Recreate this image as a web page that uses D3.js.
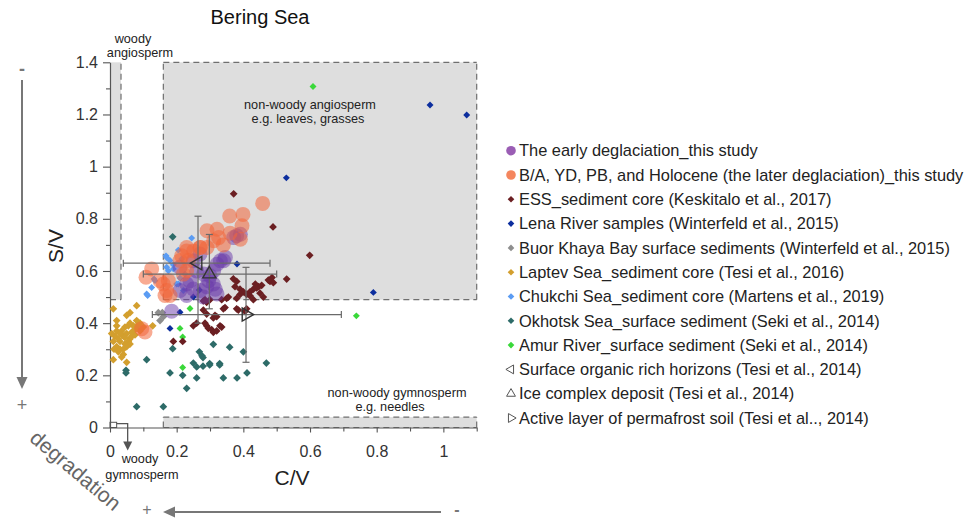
<!DOCTYPE html>
<html>
<head>
<meta charset="utf-8">
<script src="https://cdn.jsdelivr.net/npm/d3@7"></script>
<style>
  html, body { margin: 0; padding: 0; background: #fff; }
  svg { display: block; font-family: "Liberation Sans", Arial, sans-serif; }
</style>
</head>
<body>
<svg id="chart" width="968" height="519"></svg>
<script>
// ---- data: [C/V, S/V] pairs ----
const earlyDeglaciation = [
  [0.391,0.741],[0.371,0.728],[0.38,0.735],[0.346,0.652],[0.341,0.639],[0.321,0.626],
  [0.311,0.601],[0.296,0.563],[0.281,0.588],[0.23,0.55],[0.21,0.525],[0.271,0.525],
  [0.321,0.512],[0.31,0.55],[0.29,0.54],[0.28,0.50],[0.185,0.446],[0.25,0.639],
  [0.21,0.614],[0.27,0.665],[0.331,0.639],[0.30,0.582],[0.316,0.53],[0.24,0.563],
  [0.25,0.531],[0.23,0.506],[0.26,0.60]
];
const laterDeglaciation = [
  [0.458,0.859],[0.399,0.817],[0.359,0.811],[0.396,0.773],[0.391,0.722],[0.321,0.760],
  [0.291,0.754],[0.326,0.728],[0.311,0.716],[0.271,0.690],[0.251,0.677],[0.230,0.690],
  [0.291,0.690],[0.215,0.658],[0.125,0.608],[0.108,0.576],[0.16,0.55],[0.175,0.563],
  [0.17,0.525],[0.165,0.506],[0.22,0.588],[0.23,0.601],[0.235,0.64],[0.21,0.64],
  [0.105,0.366],[0.095,0.379],[0.23,0.677],[0.27,0.69],[0.15,0.563],[0.18,0.506],
  [0.34,0.70],[0.36,0.745]
];
const essCore = [
  [0.371,0.896],[0.489,0.769],[0.599,0.66],[0.53,0.569],
  [0.48,0.56],[0.486,0.575],[0.475,0.565],[0.49,0.555],
  [0.436,0.55],[0.446,0.54],[0.43,0.53],[0.44,0.535],[0.455,0.545],[0.42,0.52],
  [0.46,0.50],[0.43,0.49],[0.42,0.505],[0.45,0.515],
  [0.37,0.57],[0.38,0.56],[0.375,0.54],[0.39,0.53],[0.40,0.52],[0.39,0.51],[0.41,0.51],[0.38,0.495],
  [0.41,0.455],[0.405,0.445],[0.38,0.455],[0.385,0.45],[0.34,0.455],[0.345,0.46],
  [0.335,0.49],[0.35,0.495],[0.355,0.50],
  [0.285,0.49],[0.29,0.48],[0.28,0.485],[0.30,0.49],
  [0.28,0.45],[0.29,0.435],
  [0.315,0.43],[0.31,0.42],[0.32,0.425],
  [0.285,0.40],[0.29,0.39],[0.295,0.38],[0.305,0.375],
  [0.33,0.39],[0.335,0.385],[0.31,0.365],[0.32,0.37],
  [0.26,0.40],[0.25,0.39],
  [0.19,0.33],[0.218,0.33]
];
const lenaRiver = [
  [0.96,1.236],[1.07,1.198],[0.529,0.957],[0.79,0.518],[0.381,0.627],
  [0.18,0.38],[0.268,0.527],[0.25,0.50],[0.21,0.442]
];
const buorKhaya = [[0.145,0.44],[0.157,0.44],[0.16,0.425],[0.15,0.41]];
const laptevCore = [
  [0.01,0.455],[0.08,0.467],[0.05,0.43],[0.02,0.39],[0.055,0.39],[0.08,0.41],[0.09,0.40],
  [0.10,0.385],[0.128,0.39],[0.01,0.26],[0.05,0.25],[0.04,0.28],[0.02,0.31],[0.03,0.33],
  [0.04,0.35],[0.05,0.36],[0.06,0.34],[0.07,0.37],[0.035,0.37],[0.015,0.35],[0.025,0.34],
  [0.045,0.32],[0.055,0.33],[0.065,0.35],[0.075,0.355],[0.02,0.37],[0.03,0.30],[0.04,0.30],
  [0.06,0.32],[0.01,0.33],[0.005,0.36],[0.03,0.36],[0.045,0.345],[0.08,0.38],[0.09,0.37],
  [0.07,0.39],[0.06,0.40],[0.035,0.27],[0.025,0.29],[0.05,0.31],[0.012,0.30],[0.065,0.365],
  [0.085,0.395],[0.045,0.385],[0.02,0.41],[0.06,0.44]
];
const chukchiCore = [
  [0.245,0.726],[0.205,0.68],[0.17,0.652],[0.168,0.658],[0.18,0.64],[0.19,0.624],
  [0.175,0.601],[0.132,0.569],[0.11,0.512],[0.125,0.537],[0.2,0.55],[0.21,0.573],
  [0.225,0.588],[0.135,0.563],[0.113,0.506],[0.17,0.614],[0.19,0.608],[0.205,0.55],
  [0.22,0.525],[0.215,0.646]
];
const okhotskSurface = [
  [0.188,0.731],[0.048,0.219],[0.048,0.209],[0.11,0.26],[0.08,0.08],[0.16,0.08],
  [0.188,0.302],[0.18,0.209],[0.218,0.20],[0.23,0.15],[0.25,0.247],[0.26,0.19],
  [0.268,0.29],[0.276,0.275],[0.279,0.268],[0.26,0.232],[0.279,0.235],[0.299,0.245],
  [0.299,0.24],[0.31,0.319],[0.329,0.245],[0.329,0.24],[0.34,0.19],[0.359,0.308],
  [0.381,0.19],[0.40,0.29],[0.411,0.209],[0.469,0.247]
];
const amurRiver = [[0.609,1.307],[0.739,0.428],[0.24,0.456],[0.21,0.38],[0.218,0.347],[0.218,0.23]];

// permafrost end-members: mean with min/max ranges
const surfaceHorizons = {cv: 0.264, sv: 0.63, cvRange: [0.04, 0.48], svRange: [0.40, 0.81]};
const iceComplex      = {cv: 0.298, sv: 0.588, cvRange: [0.10, 0.50], svRange: [0.455, 0.74]};
const activeLayer     = {cv: 0.408, sv: 0.433, cvRange: [0.127, 0.694], svRange: [0.25, 0.614]};

// source-vegetation fields, in C/V and S/V units
const nonWoodyAngio = {x0: 0.16, x1: 1.1, y0: 0.49, y1: 1.4};
const woodyAngio    = {x0: 0, x1: 0.033, y0: 0.49, y1: 1.4};
const nonWoodyGymno = {x0: 0.16, x1: 1.1, y0: 0, y1: 0.04};
const woodyGymno    = {x0: 0, x1: 0.02, y0: 0, y1: 0.02};

const xTickValues = [0, 0.2, 0.4, 0.6, 0.8, 1];
const xTickLabels = ["0", "0.2", "0.4", "0.6", "0.8", "1"];
const yTickValues = [0, 0.2, 0.4, 0.6, 0.8, 1, 1.2, 1.4];
const yTickLabels = ["0", "0.2", "0.4", "0.6", "0.8", "1", "1.2", "1.4"];
const xMinor = [0.1, 0.3, 0.5, 0.7, 0.9, 1.1];
const yMinor = [0.1, 0.3, 0.5, 0.7, 0.9, 1.1, 1.3];

const legendLabels = [
  "The early deglaciation_this study",
  "B/A, YD, PB, and Holocene (the later deglaciation)_this study",
  "ESS_sediment core (Keskitalo et al., 2017)",
  "Lena River samples (Winterfeld et al., 2015)",
  "Buor Khaya Bay surface sediments (Winterfeld et al., 2015)",
  "Laptev Sea_sediment core (Tesi et al., 2016)",
  "Chukchi Sea_sediment core (Martens et al., 2019)",
  "Okhotsk Sea_surface sediment (Seki et al., 2014)",
  "Amur River_surface sediment (Seki et al., 2014)",
  "Surface organic rich horizons (Tesi et al., 2014)",
  "Ice complex deposit (Tesi et al., 2014)",
  "Active layer of permafrost soil (Tesi et al.., 2014)"
];

// ---- drawing ----
const svg = d3.select("#chart");
const x = d3.scaleLinear().domain([0, 1.1]).range([110, 476.7]);
const y = d3.scaleLinear().domain([0, 1.4]).range([427.5, 62.3]);

const colors = {
  early: "#6a3aaa", later: "#f2663a", ess: "#6b1f22", lena: "#0c2e9e",
  buor: "#8e8e8e", laptev: "#d39f2e", chukchi: "#5b9cf3", okhotsk: "#2d6b68", amur: "#3ad83a"
};

// vegetation fields
const fieldG = svg.append("g");
function field(f, sides) {
  fieldG.append("rect")
    .attr("x", x(f.x0)).attr("y", y(f.y1))
    .attr("width", x(f.x1) - x(f.x0)).attr("height", y(f.y0) - y(f.y1))
    .attr("fill", "#dedede");
  const x0 = x(f.x0), x1 = x(f.x1), y0 = y(f.y0), y1 = y(f.y1);
  const segs = {top: [x0, y1, x1, y1], bottom: [x0, y0, x1, y0], left: [x0, y0, x0, y1], right: [x1, y0, x1, y1]};
  sides.forEach(s => {
    const [a, b, c, d] = segs[s];
    fieldG.append("line").attr("x1", a).attr("y1", b).attr("x2", c).attr("y2", d)
      .attr("stroke", "#6f6f6f").attr("stroke-width", 1.2).attr("stroke-dasharray", "6,4");
  });
}
field(nonWoodyAngio, ["top", "bottom", "left", "right"]);
field(woodyAngio, ["right", "bottom"]);
field(nonWoodyGymno, ["top", "bottom", "left", "right"]);

// woody gymnosperm box with arrow
fieldG.append("rect")
  .attr("x", x(woodyGymno.x0)).attr("y", y(woodyGymno.y1))
  .attr("width", x(woodyGymno.x1) - x(woodyGymno.x0)).attr("height", y(woodyGymno.y0) - y(woodyGymno.y1))
  .attr("fill", "none").attr("stroke", "#555").attr("stroke-width", 1);
{
  const ax = x(0.053), ay = y(0.015);
  fieldG.append("path")
    .attr("d", `M${x(woodyGymno.x1)},${ay}H${ax}V${y(0) + 16}`)
    .attr("fill", "none").attr("stroke", "#555").attr("stroke-width", 1.3);
  fieldG.append("path")
    .attr("d", `M${ax - 4.5},${y(0) + 14}L${ax + 4.5},${y(0) + 14}L${ax},${y(0) + 23}Z`)
    .attr("fill", "#555");
}

// axes
const axG = svg.append("g").attr("font-family", "Liberation Sans, Arial, sans-serif");
const yAxis = axG.append("g").attr("transform", `translate(${x(0)},0)`)
  .call(d3.axisLeft(y).tickValues(yTickValues).tickSize(7).tickSizeOuter(0)
    .tickFormat((d, i) => yTickLabels[i]));
const yAxisMinor = axG.append("g").attr("transform", `translate(${x(0)},0)`)
  .call(d3.axisLeft(y).tickValues(yMinor).tickSize(4).tickFormat(""));
yAxisMinor.select(".domain").remove();
const xAxis = axG.append("g").attr("transform", `translate(0,${y(0)})`)
  .call(d3.axisBottom(x).tickValues(xTickValues).tickSize(5).tickSizeOuter(0)
    .tickFormat((d, i) => xTickLabels[i]));
const xAxisMinor = axG.append("g").attr("transform", `translate(0,${y(0)})`)
  .call(d3.axisBottom(x).tickValues(xMinor).tickSize(4).tickFormat(""));
xAxisMinor.select(".domain").remove();
axG.selectAll(".domain").attr("stroke", "#555").attr("stroke-width", 1.2);
axG.selectAll(".tick line").attr("stroke", "#555").attr("stroke-width", 1.1);
axG.selectAll(".tick text").attr("font-size", 16).attr("fill", "#333");
yAxis.selectAll(".tick text").attr("x", -12);
xAxis.selectAll(".tick text").attr("y", 18);

// markers
const diamond = d3.symbol().type(d3.symbolSquare).size(30)();
const diamondSmall = d3.symbol().type(d3.symbolSquare).size(24)();
const plotG = svg.append("g");
function diamonds(data, color, path) {
  plotG.append("g").selectAll("path").data(data).join("path")
    .attr("d", path || diamond)
    .attr("transform", d => `translate(${x(d[0])},${y(d[1])}) rotate(45)`)
    .attr("fill", color);
}
diamonds(laptevCore, colors.laptev);
diamonds(okhotskSurface, colors.okhotsk);
diamonds(amurRiver, colors.amur, diamondSmall);
diamonds(buorKhaya, colors.buor);
diamonds(chukchiCore, colors.chukchi, diamondSmall);
diamonds(essCore, colors.ess);
diamonds(lenaRiver, colors.lena, diamondSmall);

function bubbles(data, color, op) {
  plotG.append("g").selectAll("circle").data(data).join("circle")
    .attr("cx", d => x(d[0])).attr("cy", d => y(d[1])).attr("r", 7.5)
    .attr("fill", color).attr("fill-opacity", op);
}
bubbles(earlyDeglaciation, colors.early, 0.5);
bubbles(laterDeglaciation, colors.later, 0.55);

// end-members with range bars
const triPath = d3.symbol().type(d3.symbolTriangle).size(75)();
const endG = svg.append("g");
[[surfaceHorizons, -90], [iceComplex, 0], [activeLayer, 90]].forEach(([m, rot]) => {
  const g = endG.append("g").attr("stroke", "#6a6a6a").attr("stroke-width", 1.2).attr("fill", "none");
  const cx = x(m.cv), cy = y(m.sv), cap = 3.5;
  g.append("line").attr("x1", x(m.cvRange[0])).attr("x2", x(m.cvRange[1])).attr("y1", cy).attr("y2", cy);
  g.append("line").attr("x1", cx).attr("x2", cx).attr("y1", y(m.svRange[0])).attr("y2", y(m.svRange[1]));
  m.cvRange.forEach(v => g.append("line").attr("x1", x(v)).attr("x2", x(v)).attr("y1", cy - cap).attr("y2", cy + cap));
  m.svRange.forEach(v => g.append("line").attr("x1", cx - cap).attr("x2", cx + cap).attr("y1", y(v)).attr("y2", y(v)));
  endG.append("path").attr("d", triPath)
    .attr("transform", `translate(${cx},${cy}) rotate(${rot})`)
    .attr("fill", "none").attr("stroke", "#333").attr("stroke-width", 1.4);
});

// text annotations
const ann = svg.append("g").attr("font-size", 12.7).attr("fill", "#222").attr("text-anchor", "middle");
ann.append("text").attr("x", 133).attr("y", 43).text("woody");
ann.append("text").attr("x", 140).attr("y", 57).text("angiosperm");
ann.append("text").attr("x", 310).attr("y", 109).text("non-woody angiosperm");
ann.append("text").attr("x", 308).attr("y", 122.5).text("e.g. leaves, grasses");
ann.append("text").attr("x", 397).attr("y", 397).text("non-woody gymnosperm");
ann.append("text").attr("x", 390).attr("y", 411).text("e.g. needles");
ann.append("text").attr("x", 140).attr("y", 463).text("woody");
ann.append("text").attr("x", 142).attr("y", 479).text("gymnosperm");

// title and axis titles
svg.append("text").attr("x", 260).attr("y", 24).attr("text-anchor", "middle")
  .attr("font-size", 20).attr("fill", "#111").text("Bering Sea");
svg.append("text").attr("x", 292).attr("y", 485).attr("text-anchor", "middle")
  .attr("font-size", 21).attr("fill", "#222").text("C/V");
svg.append("text").attr("transform", "translate(63,246) rotate(-90)").attr("text-anchor", "middle")
  .attr("font-size", 21).attr("fill", "#222").text("S/V");

// degradation arrows
const arrowG = svg.append("g").attr("fill", "#777").attr("stroke", "#777");
arrowG.append("line").attr("x1", 22).attr("x2", 22).attr("y1", 80).attr("y2", 380).attr("stroke-width", 2);
arrowG.append("path").attr("d", "M16.5,377L27.5,377L22,389Z").attr("stroke", "none");
arrowG.append("line").attr("x1", 441).attr("x2", 172).attr("y1", 512).attr("y2", 512).attr("stroke-width", 2);
arrowG.append("path").attr("d", "M175,506.5L175,517.5L163,512Z").attr("stroke", "none");
const signs = svg.append("g").attr("fill", "#777").attr("text-anchor", "middle");
signs.append("text").attr("x", 22).attr("y", 75).attr("font-size", 18).attr("font-weight", "bold").text("-");
signs.append("text").attr("x", 22).attr("y", 411).attr("font-size", 18).text("+");
signs.append("text").attr("x", 147).attr("y", 515).attr("font-size", 16).text("+");
signs.append("text").attr("x", 457).attr("y", 515).attr("font-size", 16).attr("font-weight", "bold").text("-");
svg.append("text").attr("transform", "translate(71,476) rotate(40)").attr("text-anchor", "middle")
  .attr("font-size", 21).attr("fill", "#666").text("degradation");

// legend
const legendMarkers = [
  {type: "circle", color: "#9a5db4"}, {type: "circle", color: "#f4865e"},
  {type: "diamond", color: colors.ess}, {type: "diamond", color: colors.lena},
  {type: "diamond", color: colors.buor}, {type: "diamond", color: colors.laptev},
  {type: "diamond", color: colors.chukchi}, {type: "diamond", color: colors.okhotsk},
  {type: "diamond", color: colors.amur},
  {type: "tri", rot: -90}, {type: "tri", rot: 0}, {type: "tri", rot: 90}
];
const legendY = d3.scalePoint().domain(d3.range(legendLabels.length)).range([150.7, 418]);
const leg = svg.append("g");
const legDiamond = d3.symbol().type(d3.symbolSquare).size(22)();
const legTri = d3.symbol().type(d3.symbolTriangle).size(34)();
legendLabels.forEach((label, i) => {
  const m = legendMarkers[i], ly = legendY(i), mx = 511;
  if (m.type === "circle") {
    leg.append("circle").attr("cx", mx).attr("cy", ly).attr("r", 4.8).attr("fill", m.color);
  } else if (m.type === "diamond") {
    leg.append("path").attr("d", legDiamond).attr("transform", `translate(${mx},${ly}) rotate(45)`).attr("fill", m.color);
  } else {
    leg.append("path").attr("d", legTri).attr("transform", `translate(${mx},${ly}) rotate(${m.rot})`)
      .attr("fill", "none").attr("stroke", "#555").attr("stroke-width", 1);
  }
  leg.append("text").attr("x", 519).attr("y", ly).attr("dy", "0.35em")
    .attr("font-size", 16.4).attr("fill", "#222").text(label);
});
</script>
</body>
</html>
